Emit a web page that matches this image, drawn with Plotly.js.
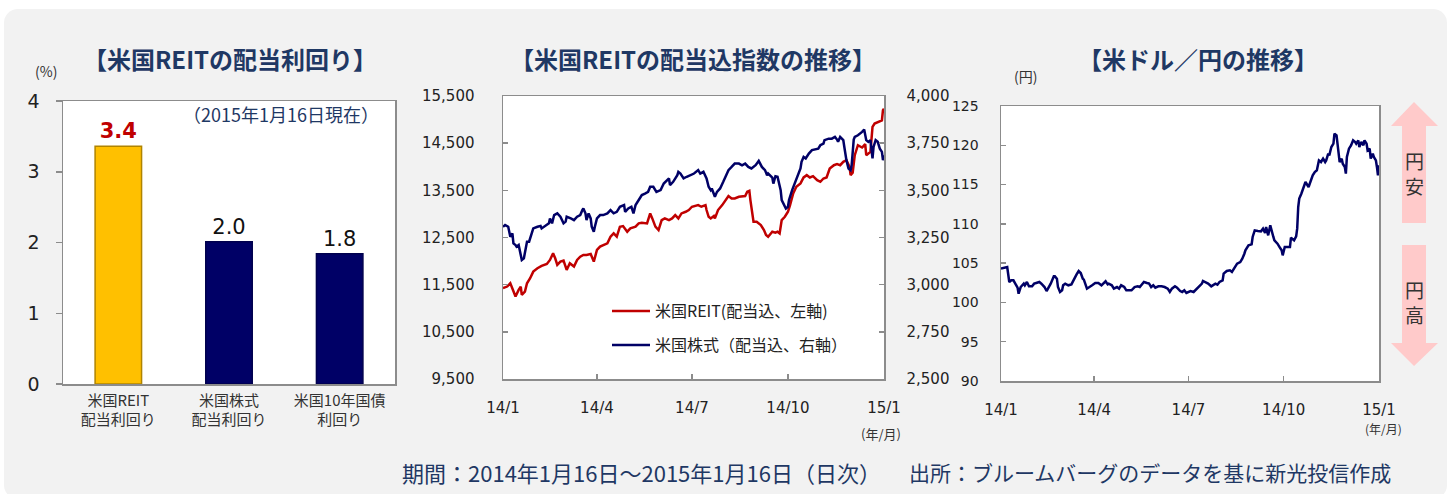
<!DOCTYPE html>
<html>
<head>
<meta charset="utf-8">
<script src="https://cdn.plot.ly/plotly-3.0.1.min.js"></script>
<style>
  html, body { margin: 0; padding: 0; background: #ffffff; }
  #wrap { position: relative; width: 1454px; height: 494px; overflow: hidden; }
  #panel { position: absolute; left: 4px; top: 9px; width: 1443px; height: 490px; background: #f2f2f2; border-radius: 14px; }
  #chart { position: absolute; left: 0; top: 0; width: 1454px; height: 494px; }
</style>
</head>
<body>
<div id="wrap"><div id="panel"></div><div id="chart"></div></div>
<script>
// ---------- DATA ----------
const yieldCategories = ['米国REIT<br>配当利回り', '米国株式<br>配当利回り', '米国10年国債<br>利回り'];
const yieldValues = [3.36, 2.01, 1.84];
const yieldLabels = ['3.4', '2.0', '1.8'];

// days since 2014-01-16
const reitDays = [0,4,7,10,12,15,17,18,21,23,26,29,33,37,42,45,48,50,52,55,58,61,64,68,71,74,77,80,84,87,90,93,96,100,103,106,109,112,115,119,122,127,130,133,138,141,143,146,149,152,155,159,162,165,168,171,175,178,181,184,187,190,194,195,197,199,202,203,206,210,213,216,219,222,226,229,232,234,236,237,239,240,243,245,247,250,252,254,258,261,263,265,267,270,273,275,278,281,285,288,291,294,297,301,304,307,310,313,317,320,323,326,329,332,333,335,337,340,344,347,348,352,354,356,360,363,364,365];
const reitValues = [11425,11460,11530,11354,11248,11389,11460,11283,11354,11530,11636,11777,11848,11897,11939,12024,12165,12059,11918,11989,12010,11812,11953,11883,12024,12094,12130,12130,12151,11989,12235,12306,12341,12376,12517,12588,12517,12729,12743,12623,12694,12729,12799,12813,12799,13011,12905,12729,12658,12870,12905,12870,12905,12976,12905,13011,13046,13082,13152,13170,13187,13152,13187,13082,12940,12905,12955,12905,13082,13187,13293,13378,13328,13328,13364,13364,13378,13469,13490,13293,13011,12835,12835,12799,12764,12658,12553,12517,12623,12602,12623,12588,12870,12940,13046,13187,13434,13575,13646,13773,13822,13773,13801,13716,13681,13751,13773,13963,14033,14055,14033,14104,14139,13998,13822,13871,14245,14456,14407,14478,14245,14315,14844,14915,14950,14985,15197,15232];

const stockDays = [0,2,5,7,9,10,12,13,15,17,18,20,21,23,25,26,29,33,36,37,41,44,45,47,49,52,55,58,60,61,65,68,71,74,76,77,79,80,82,84,85,87,88,90,93,96,100,103,106,109,112,116,117,120,123,125,127,130,133,136,139,141,144,147,151,154,157,159,160,163,167,168,170,173,176,179,183,187,189,192,195,197,199,200,202,203,205,208,211,214,216,219,222,226,229,232,235,238,242,245,246,248,251,253,254,258,259,261,263,266,267,269,271,273,274,277,279,281,283,285,286,288,290,293,296,299,302,304,307,308,312,315,318,320,321,323,326,327,329,331,333,334,336,337,340,344,346,348,350,352,354,355,357,359,361,363,364,365];
const stockValues = [3307,3316,3307,3254,3272,3219,3210,3201,3210,3166,3131,3140,3166,3228,3228,3245,3298,3307,3311,3298,3316,3325,3351,3325,3369,3378,3360,3325,3334,3360,3351,3342,3360,3369,3395,3404,3378,3342,3378,3351,3307,3281,3307,3351,3369,3369,3378,3395,3378,3386,3413,3422,3386,3404,3413,3378,3422,3448,3475,3483,3492,3519,3519,3492,3501,3536,3554,3563,3528,3545,3580,3598,3589,3563,3572,3580,3589,3607,3589,3598,3563,3519,3501,3510,3475,3466,3492,3510,3545,3580,3607,3624,3642,3642,3633,3642,3624,3616,3633,3656,3642,3624,3607,3580,3589,3568,3536,3575,3572,3501,3448,3422,3404,3413,3448,3501,3528,3563,3589,3616,3651,3677,3669,3695,3713,3716,3721,3739,3748,3766,3774,3774,3783,3769,3757,3783,3766,3730,3660,3616,3607,3633,3769,3783,3792,3810,3822,3766,3757,3766,3669,3730,3766,3757,3721,3704,3660,3686];

const fxDays = [0,4,6,8,10,12,14,16,17,19,22,23,25,27,30,32,34,37,39,42,44,46,48,51,52,54,55,57,59,60,62,65,68,70,71,73,75,77,79,80,83,85,88,91,94,97,99,101,103,104,107,109,112,114,116,119,121,124,126,129,132,134,136,138,141,143,145,147,149,152,155,158,161,163,165,168,170,173,175,177,179,181,183,186,189,191,194,195,197,200,203,205,207,209,211,214,215,218,221,223,226,228,231,233,235,236,239,242,243,245,248,251,253,255,256,258,260,261,263,264,267,269,271,272,274,276,279,280,283,285,286,287,288,290,292,294,297,299,301,303,305,307,309,311,313,314,316,317,319,321,322,324,325,327,329,330,332,333,334,336,338,340,342,343,345,346,348,350,351,353,354,356,357,359,360,362,363,364,365];
const fxValues = [104.30,104.42,104.51,102.60,102.81,102.81,102.39,101.88,101.11,101.96,102.39,102.18,102.60,102.05,102.05,102.39,102.47,102.60,102.39,101.96,101.45,101.88,102.39,103.32,103.32,103.02,101.96,101.33,101.54,102.18,102.39,102.18,102.30,102.81,103.15,103.57,104.00,103.74,103.02,102.90,101.75,101.88,102.18,102.47,102.47,102.18,102.47,102.69,102.30,102.39,102.18,101.75,101.96,101.75,102.18,101.96,101.54,101.54,101.54,101.96,102.05,101.96,102.30,102.60,102.47,102.39,101.96,102.18,101.88,102.05,102.05,101.96,101.75,101.33,101.75,102.05,101.88,101.45,101.33,101.54,101.20,101.33,101.45,101.33,101.75,102.05,102.39,102.73,102.60,102.39,102.05,102.18,102.39,102.26,102.60,102.81,103.66,104.00,104.08,103.87,104.42,104.93,105.14,105.57,106.20,106.63,107.27,107.39,108.33,109.17,109.09,109.05,109.39,108.84,109.60,108.54,109.81,109.17,108.33,107.90,107.48,107.05,106.63,105.99,107.05,107.05,107.05,108.24,107.90,108.41,109.39,112.14,113.21,113.84,114.48,115.33,114.69,115.54,116.18,116.60,116.81,118.08,117.87,118.30,117.87,118.08,118.93,118.72,119.78,120.21,121.48,121.27,120.21,117.87,118.30,117.66,117.24,116.39,118.51,119.57,119.99,120.63,120.42,120.21,120.63,119.78,120.42,119.99,120.63,120.21,119.36,119.57,118.30,118.93,118.51,118.08,117.24,116.18,117.45];

const dateTicks = ['2014-01-16','2014-04-16','2014-07-16','2014-10-16','2015-01-16'];
const dateTickText = ['14/1','14/4','14/7','14/10','15/1'];

// ---------- HELPERS ----------
const W = 1454, H = 494;
const px = v => v / W;
const py = v => 1 - v / H;
const base = Date.UTC(2014, 0, 16);
const toDate = d => new Date(base + d * 86400000).toISOString().slice(0, 10);

const CJK = '"Noto Sans CJK JP", "Noto Sans", sans-serif';
const NUM = '"DejaVu Sans", Verdana, sans-serif';
const NAVY_T = '#1f3864';
const AXC = '#8c8c8c';

// ---------- TRACES ----------
const traces = [
  {
    type: 'bar', x: yieldCategories, y: yieldValues,
    xaxis: 'x', yaxis: 'y', width: 0.42,
    marker: { color: ['#FFC000', '#000066', '#000066'], line: { color: ['#B08400', '#00004d', '#00004d'], width: 1.5 } },
    text: yieldLabels.map((t, i) => i === 0 ? '<b>' + t + '</b>' : t),
    textposition: 'outside', cliponaxis: false,
    textfont: { family: NUM, size: 21, color: ['#C00000', '#111111', '#111111'] },
    showlegend: false, hoverinfo: 'skip'
  },
  {
    type: 'scatter', mode: 'lines', name: '米国REIT(配当込、左軸)',
    x: reitDays.map(toDate), y: reitValues, xaxis: 'x2', yaxis: 'y2',
    line: { color: '#C00000', width: 2.5 }, legend: 'legend'
  },
  {
    type: 'scatter', mode: 'lines', name: '米国株式（配当込、右軸）',
    x: stockDays.map(toDate), y: stockValues, xaxis: 'x2', yaxis: 'y3',
    line: { color: '#000066', width: 2.5 }, legend: 'legend2'
  },
  {
    type: 'scatter', mode: 'lines', name: '米ドル／円',
    x: fxDays.map(toDate), y: fxValues, xaxis: 'x3', yaxis: 'y4',
    line: { color: '#000066', width: 2.5 }, showlegend: false
  }
];

// ---------- LAYOUT ----------
const boxAxis = {
  showline: true, linecolor: AXC, linewidth: 1.5, mirror: true,
  showgrid: false, zeroline: false, fixedrange: true
};

function arrowPath(pts) {
  return 'M' + pts.map(p => px(p[0]) + ',' + py(p[1])).join(' L') + ' Z';
}

function note(text, x, y, size, color, xanchor) {
  return { text: text, x: px(x), y: py(y), xref: 'paper', yref: 'paper', showarrow: false,
    xanchor: xanchor || 'center', yanchor: 'middle',
    font: { family: CJK, size: size, color: color } };
}

const layout = {
  width: W, height: H,
  margin: { l: 0, r: 0, t: 0, b: 0 },
  paper_bgcolor: 'rgba(0,0,0,0)', plot_bgcolor: '#ffffff',
  font: { family: CJK, color: '#262626' },
  bargap: 0,
  xaxis: Object.assign({}, boxAxis, {
    domain: [px(63), px(395)], anchor: 'y', type: 'category', range: [-0.5, 2.5],
    ticks: '', tickfont: { family: CJK, size: 15, color: '#333333' }, ticklabelstandoff: 2
  }),
  yaxis: Object.assign({}, boxAxis, {
    domain: [py(384), py(101)], anchor: 'x', range: [0, 4], dtick: 1, tick0: 0,
    ticks: 'outside', ticklen: 6, tickcolor: AXC, tickwidth: 1.5,
    tickfont: { family: NUM, size: 19, color: '#222222' }, ticklabelstandoff: 12
  }),
  xaxis2: Object.assign({}, boxAxis, {
    domain: [px(503), px(884)], anchor: 'y2', type: 'date',
    range: ['2014-01-16', '2015-01-16'], tickmode: 'array', tickvals: dateTicks, ticktext: dateTickText,
    ticks: 'inside', ticklen: 5, tickcolor: AXC, tickwidth: 1.5,
    tickfont: { family: NUM, size: 15, color: '#222222' }, ticklabelstandoff: 14
  }),
  yaxis2: Object.assign({}, boxAxis, {
    domain: [py(379), py(96)], anchor: 'x2', range: [9500, 15500], tick0: 9500, dtick: 1000,
    tickformat: ',d', ticks: 'inside', ticklen: 5, tickcolor: AXC, tickwidth: 1.5,
    tickfont: { family: NUM, size: 15, color: '#222222' }, ticklabelstandoff: 24
  }),
  yaxis3: {
    overlaying: 'y2', side: 'right', anchor: 'x2', range: [2500, 4000], tick0: 2500, dtick: 250,
    tickformat: ',d', showline: true, linecolor: AXC, linewidth: 1.5, showgrid: false, zeroline: false,
    ticks: 'inside', ticklen: 5, tickcolor: AXC, tickwidth: 1.5, fixedrange: true,
    tickfont: { family: NUM, size: 15, color: '#222222' }, ticklabelstandoff: 18
  },
  xaxis3: Object.assign({}, boxAxis, {
    domain: [px(1001), px(1379)], anchor: 'y4', type: 'date',
    range: ['2014-01-16', '2015-01-16'], tickmode: 'array', tickvals: dateTicks, ticktext: dateTickText,
    ticks: 'inside', ticklen: 5, tickcolor: AXC, tickwidth: 1.5,
    tickfont: { family: NUM, size: 15, color: '#222222' }, ticklabelstandoff: 14
  }),
  yaxis4: Object.assign({}, boxAxis, {
    domain: [py(381), py(106)], anchor: 'x3', range: [90, 125], tick0: 90, dtick: 5,
    ticks: 'inside', ticklen: 5, tickcolor: AXC, tickwidth: 1.5,
    tickfont: { family: NUM, size: 14, color: '#222222' }, ticklabelstandoff: 18
  }),
  legend: {
    x: px(607), y: py(311), xanchor: 'left', yanchor: 'middle', bgcolor: 'rgba(0,0,0,0)',
    borderwidth: 0, font: { family: CJK, size: 16, color: '#222222' }, itemwidth: 38
  },
  legend2: {
    x: px(607), y: py(345), xanchor: 'left', yanchor: 'middle', bgcolor: 'rgba(0,0,0,0)',
    borderwidth: 0, font: { family: CJK, size: 16, color: '#222222' }, itemwidth: 38
  },
  shapes: [
    { type: 'path', xref: 'paper', yref: 'paper', fillcolor: '#FFCACA', line: { width: 0 }, layer: 'below',
      path: arrowPath([[1414,102],[1438,126],[1426,126],[1426,223],[1402,223],[1402,126],[1391,126]]) },
    { type: 'path', xref: 'paper', yref: 'paper', fillcolor: '#FFCACA', line: { width: 0 }, layer: 'below',
      path: arrowPath([[1402,245],[1426,245],[1426,343],[1438,343],[1414,366],[1391,343],[1402,343]]) }
  ],
  annotations: [
    note('<b>【米国REITの配当利回り】</b>', 230, 58, 24, NAVY_T),
    note('<b>【米国REITの配当込指数の推移】</b>', 693, 58, 24, NAVY_T),
    note('<b>【米ドル／円の推移】</b>', 1198, 58, 24, NAVY_T),
    note('(%)', 46, 71, 14, '#333333'),
    note('（2015年1月16日現在）', 281, 114, 18, NAVY_T),
    note('(年/月)', 881, 433, 13, '#333333'),
    note('(円)', 1025, 76, 14, '#333333'),
    note('(年/月)', 1383, 428, 12, '#333333'),
    note('円<br>安', 1414, 173, 19, '#333333'),
    note('円<br>高', 1414, 302, 19, '#333333'),
    note('期間：2014年1月16日～2015年1月16日（日次）', 400, 472, 22, NAVY_T, 'left'),
    note('出所：ブルームバーグのデータを基に新光投信作成', 907, 472, 21, NAVY_T, 'left')
  ]
};

Plotly.newPlot('chart', traces, layout, { staticPlot: true, displayModeBar: false });
</script>
</body>
</html>
